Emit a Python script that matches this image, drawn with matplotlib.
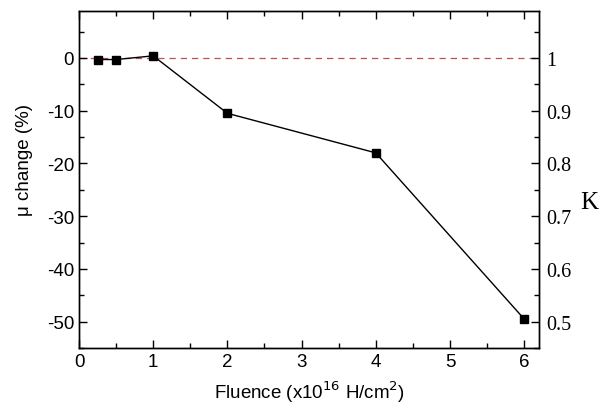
import matplotlib
matplotlib.use('Agg')
import matplotlib.pyplot as plt
from matplotlib.ticker import MultipleLocator

# data
fluence = [0.25, 0.5, 1, 2, 4, 6]
mu_change = [-0.3, -0.3, 0.4, -10.5, -18.0, -49.5]

plt.rcParams['font.family'] = ['Liberation Sans', 'DejaVu Sans']
plt.rcParams['axes.unicode_minus'] = False

fig = plt.figure(figsize=(6.04, 4.10), dpi=100)
ax = fig.add_axes([0.1308, 0.1488, 0.7616, 0.8219])

ax.axhline(0, color='#c05050', lw=0.9, ls=(0, (5, 4)), zorder=1)
ax.plot(fluence, mu_change, color='black', lw=1.0, marker='s', ms=5.5, zorder=3)

ax.set_xlim(0, 6.2)
ax.set_ylim(-55, 8.9)
ax.xaxis.set_major_locator(MultipleLocator(1))
ax.xaxis.set_minor_locator(MultipleLocator(0.5))
ax.yaxis.set_major_locator(MultipleLocator(10))
ax.yaxis.set_minor_locator(MultipleLocator(5))
ax.tick_params(which='both', direction='in', top=True, labelsize=13.5, width=1)
ax.tick_params(which='major', length=6)
ax.tick_params(which='minor', length=3.5)
ax.set_xlabel('Fluence (x10$^{16}$ H/cm$^{2}$)', fontsize=13.5, labelpad=6)
ax.set_ylabel('μ change (%)', fontsize=13.5, labelpad=12)
ax.yaxis.set_label_coords(-0.1, 0.56)

# right axis: K = 1 + change/100
ax2 = ax.twinx()
ax2.set_ylim(1 - 0.55, 1 + 0.089)
ax2.yaxis.set_major_locator(MultipleLocator(0.1))
ax2.yaxis.set_minor_locator(MultipleLocator(0.05))
ax2.tick_params(which='both', direction='in', width=1, pad=5)
ax2.tick_params(which='major', length=6)
ax2.tick_params(which='minor', length=3.5)
ax2.set_yticks([0.5, 0.6, 0.7, 0.8, 0.9, 1.0])
ax2.set_yticklabels(['0.5', '0.6', '0.7', '0.8', '0.9', '1'],
                    family=['Liberation Serif', 'DejaVu Serif'], fontsize=14.5)
ax2.set_ylabel('K', family=['Liberation Serif', 'DejaVu Serif'], fontsize=18,
               rotation=0, va='center', ha='center')
ax2.yaxis.set_label_coords(1.109, 0.433)

for a in (ax, ax2):
    for s in a.spines.values():
        s.set_linewidth(1)

fig.savefig('out.png', dpi=100)
